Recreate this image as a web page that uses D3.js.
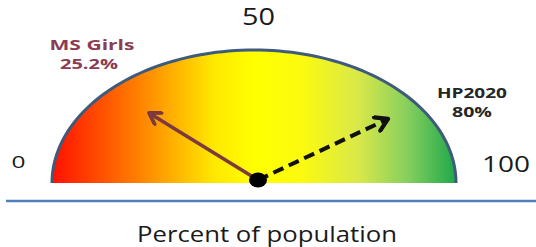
<!DOCTYPE html>
<html>
<head>
<meta charset="utf-8">
<script src="https://cdn.jsdelivr.net/npm/d3@7"></script>
<style>
  html, body { margin: 0; padding: 0; background: #fff; }
  svg { display: block; font-family: "Open Sans", "Noto Sans", sans-serif; }
</style>
</head>
<body>
<svg id="chart" width="536" height="247"></svg>
<script>
// gauge data
var scaleTicks = [0, 50, 100];
var tickLabels = ["0", "50", "100"];
var pointerNames = ["MS Girls", "HP2020"];
var pointerValues = [25.2, 80];
var pointerLabels = ["25.2%", "80%"];
var axisTitle = "Percent of population";

var svg = d3.select("#chart");
var width = 536, height = 247;

// ellipse-shaped half gauge (the picture is stretched sideways)
var cx = 254, cy = 183, rx = 202, ry = 133;

var angle = d3.scaleLinear().domain([0, 100]).range([Math.PI, 0]);

function pt(v, f) {
  var a = angle(v);
  return [cx + f * rx * Math.cos(a), cy - f * ry * Math.sin(a)];
}

var defs = svg.append("defs");
var grad = defs.append("linearGradient")
  .attr("id", "gaugeFill")
  .attr("x1", "0%").attr("x2", "100%").attr("y1", "0%").attr("y2", "0%");
[["0%", "#ff1000"], ["22%", "#ff8400"], ["40%", "#ffe800"], ["50%", "#ffff00"],
 ["62%", "#fbfa10"], ["76%", "#d8e84a"], ["88%", "#86cf5e"], ["100%", "#1ea84a"]]
  .forEach(function(s) { grad.append("stop").attr("offset", s[0]).attr("stop-color", s[1]); });

function addHead(id, color) {
  var m = defs.append("marker")
    .attr("id", id).attr("viewBox", "0 0 10 10")
    .attr("refX", 8).attr("refY", 5)
    .attr("markerWidth", 4.6).attr("markerHeight", 4.6)
    .attr("markerUnits", "strokeWidth").attr("orient", "auto");
  m.append("path").attr("d", "M1.5,1 L8,5 L1.5,9").attr("fill", "none")
    .attr("stroke", color).attr("stroke-width", 2.3)
    .attr("stroke-linecap", "round").attr("stroke-linejoin", "round");
}
addHead("headBrown", "#7d3a3e");
addHead("headBlack", "#111");

// fill
var steps = d3.range(0, 101, 1);
var arcPts = steps.map(function(v) { return pt(v, 1); });
svg.append("path")
  .attr("d", "M" + arcPts.map(function(p) { return p.join(","); }).join("L") + "Z")
  .attr("fill", "url(#gaugeFill)");

// border along the curve
svg.append("path")
  .attr("d", d3.line()(arcPts))
  .attr("fill", "none")
  .attr("stroke", "#3e5b7c")
  .attr("stroke-width", 3);

// base line
svg.append("line")
  .attr("x1", 6).attr("x2", width).attr("y1", 201).attr("y2", 201)
  .attr("stroke", "#4f81bd").attr("stroke-width", 2.5);

// tick labels
var tickPos = [[18.5, 168], [258.5, 25], [506, 172]];
var tickSize = [17, 23.5, 21];
var tickLen = [14, 33, 48];
svg.selectAll("text.tick").data(scaleTicks).enter().append("text")
  .attr("class", "tick")
  .attr("x", function(d, i) { return tickPos[i][0]; })
  .attr("y", function(d, i) { return tickPos[i][1]; })
  .attr("text-anchor", "middle")
  .attr("font-size", function(d, i) { return tickSize[i]; })
  .attr("textLength", function(d, i) { return tickLen[i]; })
  .attr("lengthAdjust", "spacingAndGlyphs")
  .attr("fill", "#1a1a1a")
  .text(function(d, i) { return tickLabels[i]; });

// pointers
var ox = 258, oy = 180;
var lens = [0.74, 0.82];
var tipMS = pt(pointerValues[0], lens[0]);
svg.append("line")
  .attr("x1", ox).attr("y1", oy).attr("x2", tipMS[0]).attr("y2", tipMS[1])
  .attr("stroke", "#7d3a3e").attr("stroke-width", 3.6)
  .attr("marker-end", "url(#headBrown)");

var tipHP = pt(pointerValues[1], lens[1]);
svg.append("line")
  .attr("x1", ox).attr("y1", oy).attr("x2", tipHP[0]).attr("y2", tipHP[1])
  .attr("stroke", "#111").attr("stroke-width", 4)
  .attr("stroke-dasharray", "11,6")
  .attr("marker-end", "url(#headBlack)");

svg.append("ellipse")
  .attr("cx", ox).attr("cy", oy).attr("rx", 9).attr("ry", 7.5)
  .attr("fill", "#000");

// pointer labels
var labelPos = [[92, 50], [472, 98]];
var labelColors = ["#8b3c52", "#262626"];
var nameLen = [85, 70];
var valueLen = [58, 40];
pointerNames.forEach(function(n, i) {
  svg.append("text")
    .attr("x", labelPos[i][0]).attr("y", labelPos[i][1])
    .attr("text-anchor", "middle")
    .attr("font-size", 14).attr("font-weight", "bold")
    .attr("textLength", nameLen[i]).attr("lengthAdjust", "spacingAndGlyphs")
    .attr("fill", labelColors[i])
    .text(n);
  svg.append("text")
    .attr("x", labelPos[i][0] - (i === 0 ? 3 : 0)).attr("y", labelPos[i][1] + 19)
    .attr("text-anchor", "middle")
    .attr("font-size", 14).attr("font-weight", "bold")
    .attr("textLength", valueLen[i]).attr("lengthAdjust", "spacingAndGlyphs")
    .attr("fill", labelColors[i])
    .text(pointerLabels[i]);
});

// axis title
svg.append("text")
  .attr("x", 267).attr("y", 242)
  .attr("text-anchor", "middle")
  .attr("font-size", 21)
  .attr("textLength", 260).attr("lengthAdjust", "spacingAndGlyphs")
  .attr("fill", "#1a1a1a")
  .text(axisTitle);
</script>
</body>
</html>
